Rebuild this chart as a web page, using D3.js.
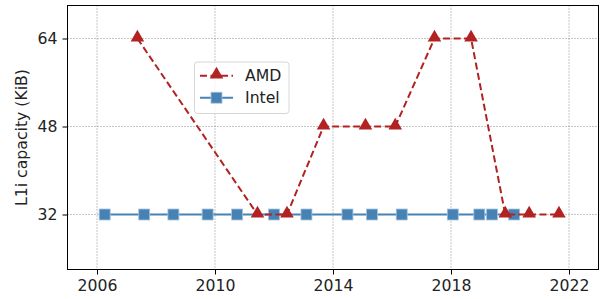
<!DOCTYPE html>
<html><head><meta charset="utf-8">
<script src="https://cdn.jsdelivr.net/npm/d3@7"></script>
<style>body{margin:0;background:#fff}svg{display:block}</style>
</head><body>
<svg id="c" width="603" height="299"></svg>
<script>
const amdYears = [2007.37, 2011.44, 2012.44, 2013.68, 2015.10, 2016.11, 2017.44, 2018.68, 2019.84, 2020.65, 2021.66];
const amdL1i   = [64, 32, 32, 48, 48, 48, 64, 64, 32, 32, 32];
const intelYears = [2006.26, 2007.60, 2008.59, 2009.75, 2010.75, 2012.00, 2013.10, 2014.49, 2015.32, 2016.33, 2018.06, 2018.96, 2019.39, 2020.14];
const intelL1i   = [32, 32, 32, 32, 32, 32, 32, 32, 32, 32, 32, 32, 32, 32];
const xTicks = [2006, 2010, 2014, 2018, 2022];
const yTicks = [32, 48, 64];
const seriesNames = ["AMD", "Intel"];

const svg = d3.select("#c");
const L = 67.5, R = 598.5, T = 5.5, B = 269.5;
const x = d3.scaleLinear().domain([2005, 2023]).range([L, R]);
const y = d3.scaleLinear().domain([22, 70]).range([B, T]);
const font = "DejaVu Sans";
const fs = 15.7;

// grid
const g = svg.append("g");
g.selectAll(".gx").data(xTicks).join("line")
  .attr("x1", d => x(d)).attr("x2", d => x(d)).attr("y1", T).attr("y2", B)
  .attr("stroke", "#8c8c8c").attr("stroke-width", 1).attr("stroke-dasharray", "1,2");
g.selectAll(".gy").data(yTicks).join("line")
  .attr("y1", d => y(d)).attr("y2", d => y(d)).attr("x1", L).attr("x2", R)
  .attr("stroke", "#8c8c8c").attr("stroke-width", 1).attr("stroke-dasharray", "1,2");

// axes
const xAxis = d3.axisBottom(x).tickValues(xTicks).tickFormat(d3.format("d")).tickSize(5).tickPadding(5);
const yAxis = d3.axisLeft(y).tickValues(yTicks).tickSize(5).tickPadding(5);
const gx = svg.append("g").attr("transform", `translate(0,${B})`).call(xAxis);
const gy = svg.append("g").attr("transform", `translate(${L},0)`).call(yAxis);
[gx, gy].forEach(a => {
  a.select(".domain").remove();
  a.selectAll("line").attr("stroke", "#000").attr("stroke-width", 1);
  a.selectAll("text").attr("font-family", font).attr("font-size", fs).attr("fill", "#222");
});

// series
const amd = amdYears.map((d, i) => [d, amdL1i[i]]);
const intel = intelYears.map((d, i) => [d, intelL1i[i]]);
const line = d3.line().x(d => x(d[0])).y(d => y(d[1]));

svg.append("path").datum(intel).attr("d", line).attr("fill", "none")
  .attr("stroke", "steelblue").attr("stroke-width", 2);
svg.append("g").selectAll("rect").data(intel).join("rect")
  .attr("x", d => x(d[0]) - 5.5).attr("y", d => y(d[1]) - 5.5)
  .attr("width", 11).attr("height", 11)
  .attr("fill", "steelblue").attr("stroke", "#a9c4dd").attr("stroke-width", 0.8);

svg.append("path").datum(amd).attr("d", line).attr("fill", "none")
  .attr("stroke", "#b22222").attr("stroke-width", 2).attr("stroke-dasharray", "7,3.5");
const tri = d3.symbol().type(d3.symbolTriangle).size(80);
svg.append("g").selectAll("path").data(amd).join("path")
  .attr("d", tri).attr("transform", d => `translate(${x(d[0])},${y(d[1]) - 1})`)
  .attr("fill", "#b22222");

// frame
svg.append("rect").attr("x", L).attr("y", T).attr("width", R - L).attr("height", B - T)
  .attr("fill", "none").attr("stroke", "#000").attr("stroke-width", 1);

// y label
svg.append("text").attr("transform", `translate(27,${(T + B) / 2}) rotate(-90)`)
  .attr("text-anchor", "middle").attr("font-family", font).attr("font-size", fs).attr("fill", "#222")
  .text("L1i capacity (KiB)");

// legend
const lg = svg.append("g");
lg.append("rect").attr("x", 194.5).attr("y", 62).attr("width", 94.5).attr("height", 51.5).attr("rx", 3)
  .attr("fill", "#fff").attr("fill-opacity", 0.8).attr("stroke", "#d6d6d6").attr("stroke-width", 1);
const ly = [75.7, 97.7];
lg.append("line").attr("x1", 200).attr("x2", 233).attr("y1", ly[0]).attr("y2", ly[0])
  .attr("stroke", "#b22222").attr("stroke-width", 2).attr("stroke-dasharray", "7,3.5");
lg.append("path").attr("d", tri).attr("transform", `translate(216.5,${ly[0] - 1})`).attr("fill", "#b22222");
lg.append("line").attr("x1", 200).attr("x2", 233).attr("y1", ly[1]).attr("y2", ly[1])
  .attr("stroke", "steelblue").attr("stroke-width", 2);
lg.append("rect").attr("x", 211).attr("y", ly[1] - 5.5).attr("width", 11).attr("height", 11)
  .attr("fill", "steelblue").attr("stroke", "#a9c4dd").attr("stroke-width", 0.8);
lg.selectAll("text").data(seriesNames).join("text")
  .attr("x", 245).attr("y", (d, i) => ly[i] + 5.5)
  .attr("font-family", font).attr("font-size", fs).attr("fill", "#222").text(d => d);
</script>
</body></html>
